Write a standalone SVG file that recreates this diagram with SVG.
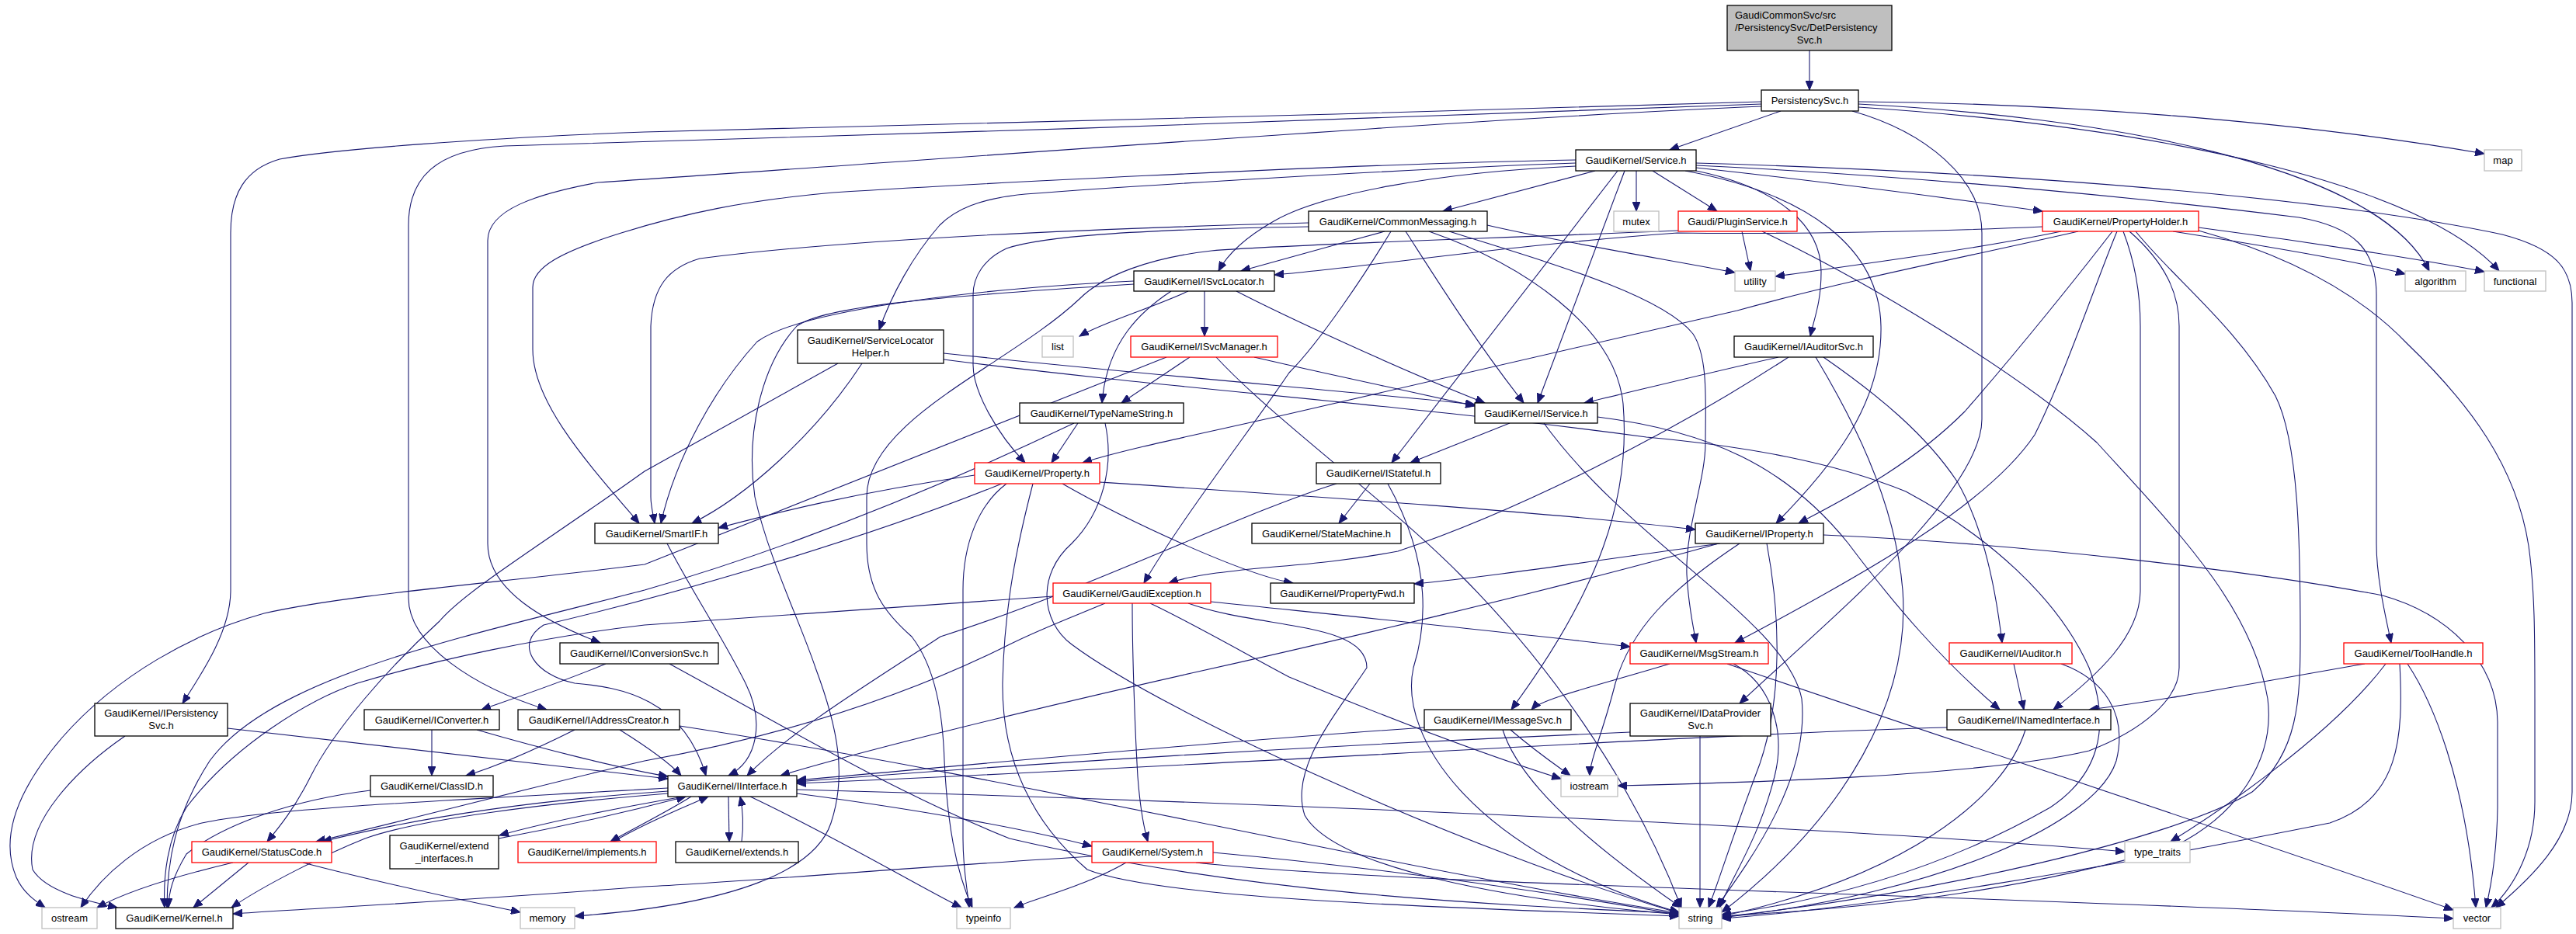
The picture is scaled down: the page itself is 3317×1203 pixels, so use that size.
<svg xmlns="http://www.w3.org/2000/svg" width="3317" height="1203" viewBox="0 0 3317 1203">
<style>
.e{fill:none;stroke:#191970;stroke-width:1.1;marker-end:url(#a)}
.n rect{fill:#ffffff;stroke:#000000;stroke-width:1.3}
.n.r rect{stroke:#ff0000}
.n.g rect{stroke:#bfbfbf}
.n.top rect{fill:#bfbfbf}
text{font-family:"Liberation Sans",Arial,Helvetica,sans-serif;font-size:13px;fill:#000000;text-anchor:middle}
text.l{text-anchor:start}
</style>
<defs>
<marker id="a" markerUnits="userSpaceOnUse" markerWidth="13" markerHeight="10" refX="12" refY="5" orient="auto">
<path d="M0,0 L12,5 L0,10 z" fill="#191970" stroke="#191970" stroke-width="1"/>
</marker>
</defs>
<rect x="0" y="0" width="3317" height="1203" fill="#ffffff"/>
<g id="edges">
<path class="e" d="M2330,65 L2330,116"/>
<path class="e" d="M2293,143 L2150,193"/>
<path class="e" d="M2393,131 C2650,133 2950,155 3199,198"/>
<path class="e" d="M2393,134 C2700,150 3060,210 3128,349"/>
<path class="e" d="M2393,138 C2800,165 3120,240 3218,349"/>
<path class="e" d="M2268,131 C1800,146 1100,163 830,170 C620,178 430,192 360,205 C315,218 297,250 297,300 L297,760 C297,810 265,860 235,906"/>
<path class="e" d="M2268,134 C1900,146 1100,178 650,188 C560,193 526,230 526,290 L526,770 C526,830 610,885 704,914"/>
<path class="e" d="M2268,137 C1900,152 1150,210 770,235 C690,250 628,270 628,310 L628,700 C628,760 700,800 773,828"/>
<path class="e" d="M2385,143 C2480,170 2552,230 2552,300 L2552,540 C2552,640 2330,820 2240,906"/>
<path class="e" d="M2054,220 L1858,272"/>
<path class="e" d="M2107,220 L2107,272"/>
<path class="e" d="M2128,220 L2211,272"/>
<path class="e" d="M2184,216 C2350,234 2500,254 2630,272"/>
<path class="e" d="M2184,213 C2500,228 2800,260 2960,280 C3030,292 3060,320 3060,380 L3060,700 C3060,745 3072,795 3079,828"/>
<path class="e" d="M2184,210 C2600,222 3000,255 3222,302 C3290,320 3312,345 3312,390 L3312,1020 C3312,1080 3260,1130 3214,1169"/>
<path class="e" d="M2184,220 C2290,242 2345,290 2345,350 C2345,390 2336,410 2331,433"/>
<path class="e" d="M2170,220 C2330,250 2420,320 2422,420 C2424,520 2360,600 2287,674"/>
<path class="e" d="M2092,220 L1980,519"/>
<path class="e" d="M2083,220 L1792,596"/>
<path class="e" d="M2029,214 C1850,222 1700,250 1640,285 C1605,305 1582,325 1569,349"/>
<path class="e" d="M2029,210 C1800,218 1450,240 1320,250 C1260,256 1230,270 1210,290 C1175,330 1148,380 1132,425"/>
<path class="e" d="M2029,206 C1700,212 1200,240 1073,248 C960,258 880,275 800,300 C720,325 686,345 686,370 L686,450 C686,520 760,600 823,674"/>
<path class="e" d="M1915,290 C2000,310 2150,335 2234,351"/>
<path class="e" d="M1783,298 C1720,315 1650,335 1598,349"/>
<path class="e" d="M1810,298 C1850,360 1900,440 1962,519"/>
<path class="e" d="M1840,298 C1960,340 2080,420 2090,520 C2100,640 2060,760 1946,914"/>
<path class="e" d="M1866,298 C2000,340 2140,380 2180,430 C2200,460 2196,520 2196,570 C2196,620 2170,680 2172,740 C2174,780 2180,805 2184,828"/>
<path class="e" d="M1791,298 C1760,350 1700,440 1660,480 C1620,540 1520,670 1473,751"/>
<path class="e" d="M1685,287 C1200,300 1000,320 901,333 C860,345 840,370 838,420 L838,640 C838,652 841,662 843,674"/>
<path class="e" d="M1685,292 C1450,296 1340,305 1296,320 C1268,333 1253,355 1253,380 L1253,470 C1253,505 1285,560 1320,596"/>
<path class="e" d="M2243,298 L2254,349"/>
<path class="e" d="M2269,298 C2400,360 2600,480 2700,570 C2800,680 2900,780 2920,900 C2930,980 2880,1050 2800,1090 C2600,1150 2400,1170 2217,1180"/>
<path class="e" d="M2161,297 C1900,308 1650,315 1560,323 C1480,332 1420,355 1390,385 C1300,470 1116,540 1116,640 L1116,700 C1116,760 1140,790 1174,820 C1205,860 1214,920 1216,980 C1220,1060 1230,1120 1252,1169"/>
<path class="e" d="M2654,298 C2550,320 2400,340 2286,356"/>
<path class="e" d="M2630,292 C2500,298 2300,302 2160,300 C1950,315 1750,345 1641,354"/>
<path class="e" d="M2676,298 C2560,325 2380,360 2237,400 L1660,533 C1550,558 1450,578 1394,596"/>
<path class="e" d="M2798,298 C2950,322 3050,340 3097,353"/>
<path class="e" d="M2831,293 C3000,315 3150,340 3199,350"/>
<path class="e" d="M2720,298 C2680,350 2600,450 2530,530 C2460,600 2380,640 2316,674"/>
<path class="e" d="M2726,298 C2700,360 2660,480 2620,560 C2560,650 2400,740 2234,828"/>
<path class="e" d="M2734,298 C2750,340 2756,380 2756,420 L2756,760 C2756,820 2700,870 2644,914"/>
<path class="e" d="M2742,298 C2790,340 2806,380 2806,420 L2806,860 C2806,900 2760,940 2690,967 C2550,1000 2250,1008 2083,1012"/>
<path class="e" d="M2750,298 C2800,360 2880,420 2930,510 C2960,570 2962,700 2962,820 C2962,900 2960,970 2900,1020 C2800,1080 2500,1150 2217,1181"/>
<path class="e" d="M2831,297 C2950,330 3040,380 3100,443 C3180,520 3240,600 3256,703 C3264,760 3264,820 3264,900 L3264,1033 C3264,1090 3240,1140 3208,1169"/>
<path class="e" d="M1530,375 C1480,398 1420,415 1390,433"/>
<path class="e" d="M1551,375 L1551,433"/>
<path class="e" d="M1508,375 C1470,400 1425,440 1419,519"/>
<path class="e" d="M1592,375 C1650,405 1800,475 1912,519"/>
<path class="e" d="M1460,362 C1250,372 1030,400 975,440 C920,500 870,590 851,674"/>
<path class="e" d="M1460,366 C1200,382 1060,395 1026,420 C980,470 960,560 972,640 C990,720 1030,800 1050,860 C1080,940 1090,1000 1070,1060 C1050,1120 950,1165 740,1180"/>
<path class="e" d="M1532,460 L1444,519"/>
<path class="e" d="M1615,460 C1700,480 1820,505 1899,523"/>
<path class="e" d="M1566,460 C1640,540 1780,640 1880,740 C1990,850 2100,1000 2165,1169"/>
<path class="e" d="M1502,460 L830,727 C650,750 450,765 340,790 C250,815 150,870 80,950 C20,1020 0,1080 21,1130 C30,1150 45,1160 58,1169"/>
<path class="e" d="M1215,455 C1500,485 1750,505 1899,521"/>
<path class="e" d="M1110,468 C1050,560 960,640 891,674"/>
<path class="e" d="M1079,468 L830,607 C700,700 600,760 566,800 C500,860 430,940 400,1000 C380,1040 360,1065 344,1084"/>
<path class="e" d="M1215,463 C1500,500 1800,520 2120,563 C2250,575 2360,595 2454,633 C2560,690 2650,770 2690,860 C2720,940 2700,1000 2640,1040 C2500,1120 2350,1160 2217,1178"/>
<path class="e" d="M2290,460 C2200,480 2100,505 2040,519"/>
<path class="e" d="M2303,460 C2150,560 1950,660 1800,710 C1720,725 1660,728 1620,732 C1570,737 1530,742 1505,751"/>
<path class="e" d="M2338,460 C2380,530 2440,640 2450,760 C2460,900 2380,1050 2217,1175"/>
<path class="e" d="M2348,460 C2420,510 2480,560 2520,620 C2555,680 2570,760 2578,828"/>
<path class="e" d="M1944,545 L1816,596"/>
<path class="e" d="M2057,537 C2200,555 2300,600 2380,700 C2440,780 2500,850 2575,914"/>
<path class="e" d="M1988,545 C2100,700 2300,800 2320,900 C2330,1000 2260,1100 2210,1169"/>
<path class="e" d="M1388,545 L1354,596"/>
<path class="e" d="M1423,545 C1435,600 1420,660 1380,700 C1335,740 1340,800 1380,830 C1500,920 1900,1100 2162,1176"/>
<path class="e" d="M1383,545 C1100,680 900,740 830,760 C600,820 350,870 270,980 C225,1050 215,1110 215,1169"/>
<path class="e" d="M1255,612 C1100,635 1000,660 925,680"/>
<path class="e" d="M1416,621 C1700,640 2000,660 2183,682"/>
<path class="e" d="M1368,623 C1450,670 1600,740 1665,751"/>
<path class="e" d="M1296,623 C1260,650 1240,700 1240,760 L1240,1080 C1240,1120 1245,1140 1248,1169"/>
<path class="e" d="M1330,623 C1310,700 1293,780 1291,880 C1290,980 1330,1060 1400,1120 C1500,1160 1900,1170 2162,1180"/>
<path class="e" d="M1290,623 C1100,700 850,770 700,805 C660,830 690,870 740,880 C800,885 880,900 909,999"/>
<path class="e" d="M1764,623 L1724,674"/>
<path class="e" d="M1721,623 C1600,660 1400,760 1211,820 C1120,880 1020,940 962,999"/>
<path class="e" d="M1787,623 C1830,700 1845,780 1820,860 C1800,950 1900,1100 2162,1175"/>
<path class="e" d="M2215,700 C2000,730 1900,745 1821,752"/>
<path class="e" d="M2213,700 C2000,760 1700,830 1534,867 C1300,920 1100,970 1005,999"/>
<path class="e" d="M2275,700 C2290,780 2300,900 2260,1000 C2230,1080 2215,1130 2200,1169"/>
<path class="e" d="M2348,689 C2600,700 2900,735 3068,767 C3150,790 3215,850 3216,930 L3216,1040 C3215,1100 3208,1140 3201,1169"/>
<path class="e" d="M2240,700 C2150,760 2100,810 2080,880 C2065,940 2047,980 2047,999"/>
<path class="e" d="M1423,777 C1380,795 1340,810 1300,830 C1200,880 1050,940 830,980 C700,1010 550,1050 407,1084"/>
<path class="e" d="M1356,768 C1100,785 900,800 830,805 C700,820 560,850 460,880 C400,900 300,960 240,1040 C215,1080 210,1130 212,1169"/>
<path class="e" d="M1458,777 C1458,850 1462,950 1465,1000 C1468,1040 1474,1070 1478,1084"/>
<path class="e" d="M1481,777 C1530,800 1600,840 1660,872 C1800,930 1920,975 2010,1003"/>
<path class="e" d="M1530,777 C1620,810 1760,800 1760,860 C1720,920 1660,990 1680,1050 C1720,1120 1950,1160 2162,1178"/>
<path class="e" d="M1559,775 C1800,800 1950,815 2099,833"/>
<path class="e" d="M2150,855 C2050,885 1985,900 1972,914"/>
<path class="e" d="M2224,855 C2500,950 2900,1080 3159,1172"/>
<path class="e" d="M2232,855 C2280,880 2300,940 2285,1000 C2265,1080 2230,1130 2214,1169"/>
<path class="e" d="M2593,855 L2606,914"/>
<path class="e" d="M2654,855 C2710,875 2740,920 2725,980 C2700,1060 2500,1150 2217,1182"/>
<path class="e" d="M3045,855 C2900,880 2800,900 2690,914"/>
<path class="e" d="M3072,855 C3000,950 2850,1050 2795,1084"/>
<path class="e" d="M3090,855 C3095,950 3090,1030 3000,1060 C2700,1120 2400,1170 2217,1183"/>
<path class="e" d="M3100,855 C3130,900 3175,1000 3188,1169"/>
<path class="e" d="M1834,937 C1500,960 1200,990 1026,1005"/>
<path class="e" d="M1945,940 C1980,970 2010,990 2022,999"/>
<path class="e" d="M1935,940 C1960,1020 2080,1110 2165,1169"/>
<path class="e" d="M2099,943 C1700,960 1300,985 1026,1007"/>
<path class="e" d="M2189,948 L2189,1169"/>
<path class="e" d="M2507,937 C2200,945 1500,990 1026,1009"/>
<path class="e" d="M2608,940 C2580,1030 2450,1130 2217,1180"/>
<path class="e" d="M859,700 C890,760 930,820 960,880 C985,930 975,980 938,999"/>
<path class="e" d="M780,855 C720,880 660,900 620,914"/>
<path class="e" d="M862,855 C1000,930 1150,1020 1300,1080 C1600,1150 1900,1165 2162,1176"/>
<path class="e" d="M161,948 C100,990 30,1060 42,1120 C60,1150 120,1162 151,1169"/>
<path class="e" d="M293,938 C500,960 700,985 860,1003"/>
<path class="e" d="M556,940 L556,999"/>
<path class="e" d="M614,940 C700,965 800,990 860,1000"/>
<path class="e" d="M740,940 C680,970 630,990 600,999"/>
<path class="e" d="M798,940 C830,960 860,980 877,999"/>
<path class="e" d="M875,935 C1300,1000 1800,1120 2162,1176"/>
<path class="e" d="M477,1018 C380,1030 290,1060 240,1100 C222,1130 217,1150 217,1169"/>
<path class="e" d="M880,1026 C800,1040 700,1060 643,1076"/>
<path class="e" d="M890,1026 C860,1045 820,1065 786,1084"/>
<path class="e" d="M938,1026 L939,1084"/>
<path class="e" d="M860,1019 C700,1030 550,1050 415,1084"/>
<path class="e" d="M860,1022 C700,1035 540,1055 470,1080 C420,1100 340,1140 298,1169"/>
<path class="e" d="M1026,1022 C1200,1045 1330,1070 1406,1090"/>
<path class="e" d="M966,1026 C1080,1080 1180,1140 1238,1169"/>
<path class="e" d="M1026,1017 C1500,1030 2300,1060 2736,1097"/>
<path class="e" d="M860,1015 C600,1030 350,1040 260,1060 C180,1080 130,1130 104,1169"/>
<path class="e" d="M642,1080 C750,1060 830,1040 883,1026"/>
<path class="e" d="M790,1084 C830,1060 880,1040 912,1026"/>
<path class="e" d="M955,1084 C958,1060 956,1040 953,1026"/>
<path class="e" d="M300,1111 C220,1130 160,1150 125,1169"/>
<path class="e" d="M320,1111 L249,1169"/>
<path class="e" d="M390,1111 C500,1140 600,1160 670,1175"/>
<path class="e" d="M1450,1111 C1400,1140 1340,1155 1306,1169"/>
<path class="e" d="M1562,1098 C1800,1120 2000,1150 2162,1178"/>
<path class="e" d="M1540,1111 C1800,1140 2500,1150 3159,1183"/>
<path class="e" d="M1406,1103 C1200,1115 900,1140 830,1142 C600,1160 400,1170 300,1177"/>
</g>
<g id="n0" class="n top"><rect x="2224" y="7" width="212" height="58"/><text class="l" x="2234" y="24">GaudiCommonSvc/src</text><text class="l" x="2234" y="40">/PersistencySvc/DetPersistency</text><text x="2330" y="56">Svc.h</text></g>
<g id="n1" class="n"><rect x="2268" y="116" width="125" height="27"/><text x="2330.5" y="134">PersistencySvc.h</text></g>
<g id="n2" class="n"><rect x="2029" y="193" width="155" height="27"/><text x="2106.5" y="211">GaudiKernel/Service.h</text></g>
<g id="n3" class="n g"><rect x="3199" y="193" width="48" height="27"/><text x="3223" y="211">map</text></g>
<g id="n4" class="n"><rect x="1685" y="272" width="230" height="26"/><text x="1800" y="289.5">GaudiKernel/CommonMessaging.h</text></g>
<g id="n5" class="n g"><rect x="2078" y="272" width="58" height="26"/><text x="2107" y="289.5">mutex</text></g>
<g id="n6" class="n r"><rect x="2161" y="272" width="153" height="26"/><text x="2237.5" y="289.5">Gaudi/PluginService.h</text></g>
<g id="n7" class="n r"><rect x="2630" y="272" width="201" height="26"/><text x="2730.5" y="289.5">GaudiKernel/PropertyHolder.h</text></g>
<g id="n8" class="n g"><rect x="2234" y="349" width="52" height="26"/><text x="2260" y="366.5">utility</text></g>
<g id="n9" class="n g"><rect x="3097" y="349" width="78" height="26"/><text x="3136" y="366.5">algorithm</text></g>
<g id="n10" class="n g"><rect x="3199" y="349" width="79" height="26"/><text x="3238.5" y="366.5">functional</text></g>
<g id="n11" class="n"><rect x="1460" y="349" width="181" height="26"/><text x="1550.5" y="366.5">GaudiKernel/ISvcLocator.h</text></g>
<g id="n12" class="n"><rect x="1027" y="425" width="188" height="43"/><text x="1121" y="443">GaudiKernel/ServiceLocator</text><text x="1121" y="459">Helper.h</text></g>
<g id="n13" class="n g"><rect x="1342" y="433" width="40" height="27"/><text x="1362" y="451">list</text></g>
<g id="n14" class="n r"><rect x="1456" y="433" width="189" height="27"/><text x="1550.5" y="451">GaudiKernel/ISvcManager.h</text></g>
<g id="n15" class="n"><rect x="2233" y="433" width="179" height="27"/><text x="2322.5" y="451">GaudiKernel/IAuditorSvc.h</text></g>
<g id="n16" class="n"><rect x="1899" y="519" width="158" height="26"/><text x="1978" y="536.5">GaudiKernel/IService.h</text></g>
<g id="n17" class="n"><rect x="1313" y="519" width="211" height="26"/><text x="1418.5" y="536.5">GaudiKernel/TypeNameString.h</text></g>
<g id="n18" class="n r"><rect x="1255" y="596" width="161" height="27"/><text x="1335.5" y="614">GaudiKernel/Property.h</text></g>
<g id="n19" class="n"><rect x="1695" y="596" width="160" height="27"/><text x="1775" y="614">GaudiKernel/IStateful.h</text></g>
<g id="n20" class="n"><rect x="766" y="674" width="159" height="26"/><text x="845.5" y="691.5">GaudiKernel/SmartIF.h</text></g>
<g id="n21" class="n"><rect x="1612" y="674" width="192" height="26"/><text x="1708" y="691.5">GaudiKernel/StateMachine.h</text></g>
<g id="n22" class="n"><rect x="2183" y="674" width="165" height="26"/><text x="2265.5" y="691.5">GaudiKernel/IProperty.h</text></g>
<g id="n23" class="n"><rect x="1636" y="751" width="185" height="26"/><text x="1728.5" y="768.5">GaudiKernel/PropertyFwd.h</text></g>
<g id="n24" class="n r"><rect x="1356" y="751" width="203" height="26"/><text x="1457.5" y="768.5">GaudiKernel/GaudiException.h</text></g>
<g id="n25" class="n"><rect x="721" y="828" width="204" height="27"/><text x="823" y="846">GaudiKernel/IConversionSvc.h</text></g>
<g id="n26" class="n r"><rect x="2099" y="828" width="178" height="27"/><text x="2188" y="846">GaudiKernel/MsgStream.h</text></g>
<g id="n27" class="n r"><rect x="2510" y="828" width="158" height="27"/><text x="2589" y="846">GaudiKernel/IAuditor.h</text></g>
<g id="n28" class="n r"><rect x="3018" y="828" width="179" height="27"/><text x="3107.5" y="846">GaudiKernel/ToolHandle.h</text></g>
<g id="n29" class="n"><rect x="122" y="906" width="171" height="42"/><text x="207.5" y="923">GaudiKernel/IPersistency</text><text x="207.5" y="939">Svc.h</text></g>
<g id="n30" class="n"><rect x="469" y="914" width="174" height="26"/><text x="556" y="931.5">GaudiKernel/IConverter.h</text></g>
<g id="n31" class="n"><rect x="667" y="914" width="208" height="26"/><text x="771" y="931.5">GaudiKernel/IAddressCreator.h</text></g>
<g id="n32" class="n"><rect x="1834" y="914" width="189" height="26"/><text x="1928.5" y="931.5">GaudiKernel/IMessageSvc.h</text></g>
<g id="n33" class="n"><rect x="2099" y="906" width="181" height="42"/><text x="2189.5" y="923">GaudiKernel/IDataProvider</text><text x="2189.5" y="939">Svc.h</text></g>
<g id="n34" class="n"><rect x="2507" y="914" width="211" height="26"/><text x="2612.5" y="931.5">GaudiKernel/INamedInterface.h</text></g>
<g id="n35" class="n"><rect x="477" y="999" width="158" height="27"/><text x="556" y="1017">GaudiKernel/ClassID.h</text></g>
<g id="n36" class="n"><rect x="860" y="999" width="166" height="27"/><text x="943" y="1017">GaudiKernel/IInterface.h</text></g>
<g id="n37" class="n g"><rect x="2010" y="999" width="73" height="27"/><text x="2046.5" y="1017">iostream</text></g>
<g id="n38" class="n r"><rect x="247" y="1084" width="180" height="27"/><text x="337" y="1102">GaudiKernel/StatusCode.h</text></g>
<g id="n39" class="n"><rect x="502" y="1076" width="140" height="43"/><text x="572" y="1094">GaudiKernel/extend</text><text x="572" y="1110">_interfaces.h</text></g>
<g id="n40" class="n r"><rect x="667" y="1084" width="178" height="27"/><text x="756" y="1102">GaudiKernel/implements.h</text></g>
<g id="n41" class="n"><rect x="870" y="1084" width="158" height="27"/><text x="949" y="1102">GaudiKernel/extends.h</text></g>
<g id="n42" class="n r"><rect x="1406" y="1084" width="156" height="27"/><text x="1484" y="1102">GaudiKernel/System.h</text></g>
<g id="n43" class="n g"><rect x="2736" y="1084" width="84" height="27"/><text x="2778" y="1102">type_traits</text></g>
<g id="n44" class="n g"><rect x="54" y="1169" width="71" height="27"/><text x="89.5" y="1187">ostream</text></g>
<g id="n45" class="n"><rect x="149" y="1169" width="151" height="27"/><text x="224.5" y="1187">GaudiKernel/Kernel.h</text></g>
<g id="n46" class="n g"><rect x="670" y="1169" width="70" height="27"/><text x="705" y="1187">memory</text></g>
<g id="n47" class="n g"><rect x="1232" y="1169" width="69" height="27"/><text x="1266.5" y="1187">typeinfo</text></g>
<g id="n48" class="n g"><rect x="2162" y="1169" width="55" height="27"/><text x="2189.5" y="1187">string</text></g>
<g id="n49" class="n g"><rect x="3159" y="1169" width="61" height="27"/><text x="3189.5" y="1187">vector</text></g>
</svg>
